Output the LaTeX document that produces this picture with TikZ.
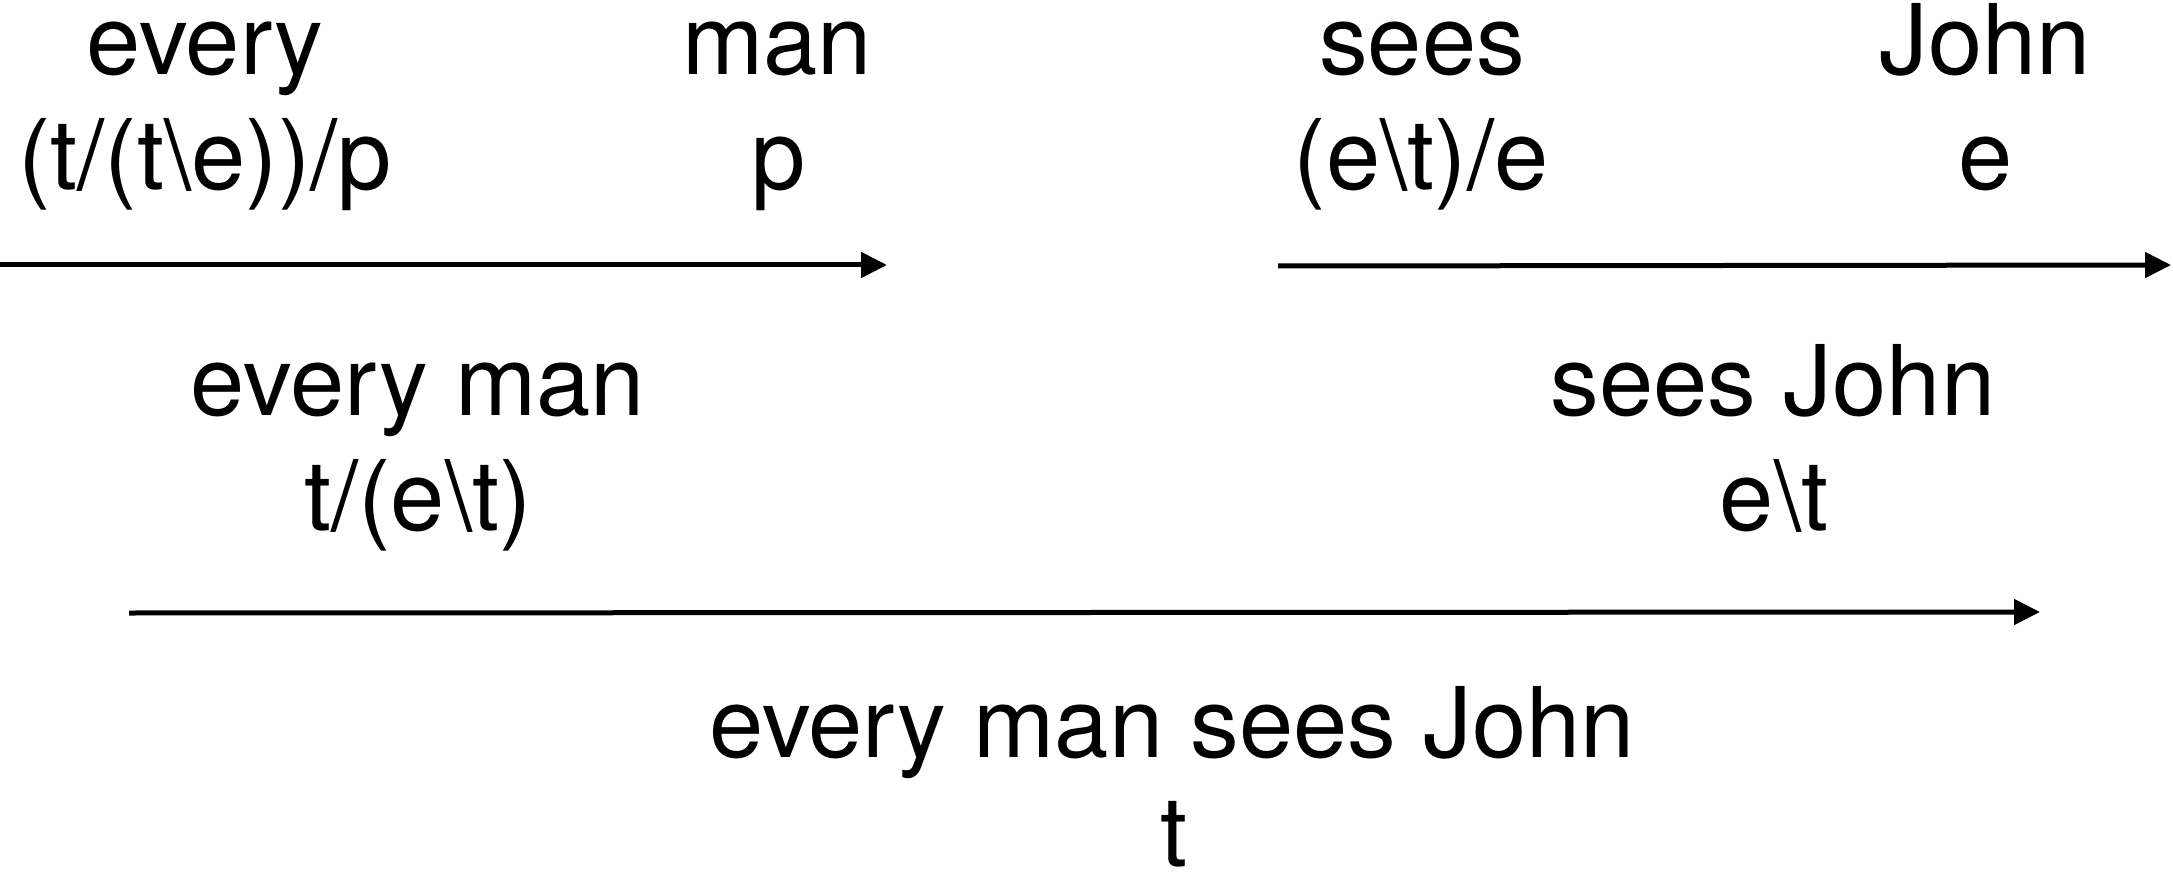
\documentclass[tikz,border=0pt]{standalone}
\usepackage{fontspec}
\setmainfont{TeX Gyre Heros}
\usetikzlibrary{arrows.meta}
\tikzset{
  lbl/.style={anchor=base, inner sep=0pt, font=\fontsize{97.5}{117}\selectfont},
  arr/.style={line width=5pt, -{Triangle[length=26pt,width=25pt]}}
}
\begin{document}
\begin{tikzpicture}[x=1pt,y=-1pt]
\useasboundingbox (0,0) rectangle (2173,874);
% row 1
\node[lbl] (w1) at (205,75) {every};
\node[lbl] (t1) at (205,190) {(t/(t\textbackslash e))/p};
\node[lbl] (w2) at (777,75) {man};
\node[lbl] (t2) at (779,190) {p};
\node[lbl] (w3) at (1422,75) {sees};
\node[lbl] (t3) at (1421,190) {(e\textbackslash t)/e};
\node[lbl] (w4) at (1985,75) {John};
\node[lbl] (t4) at (1986,190) {e};
% row 2
\node[lbl] (w5) at (418,415) {every man};
\node[lbl] (t5) at (418,530) {t/(e\textbackslash t)};
\node[lbl] (w6) at (1773,415) {sees John};
\node[lbl] (t6) at (1774,530) {e\textbackslash t};
% row 3
\node[lbl] (w7) at (1172,757) {every man sees John};
\node[lbl] (t7) at (1174,866) {t};
% arrows
\coordinate (a1s) at (0,265);
\coordinate (a1e) at (887,265);
\coordinate (a2s) at (1278,266);
\coordinate (a2e) at (2171,265);
\coordinate (a3s) at (129,613);
\coordinate (a3e) at (2040,612);
\draw[arr] (a1s) -- (a1e);
\draw[arr] (a2s) -- (a2e);
\draw[arr] (a3s) -- (a3e);
\end{tikzpicture}
\end{document}
